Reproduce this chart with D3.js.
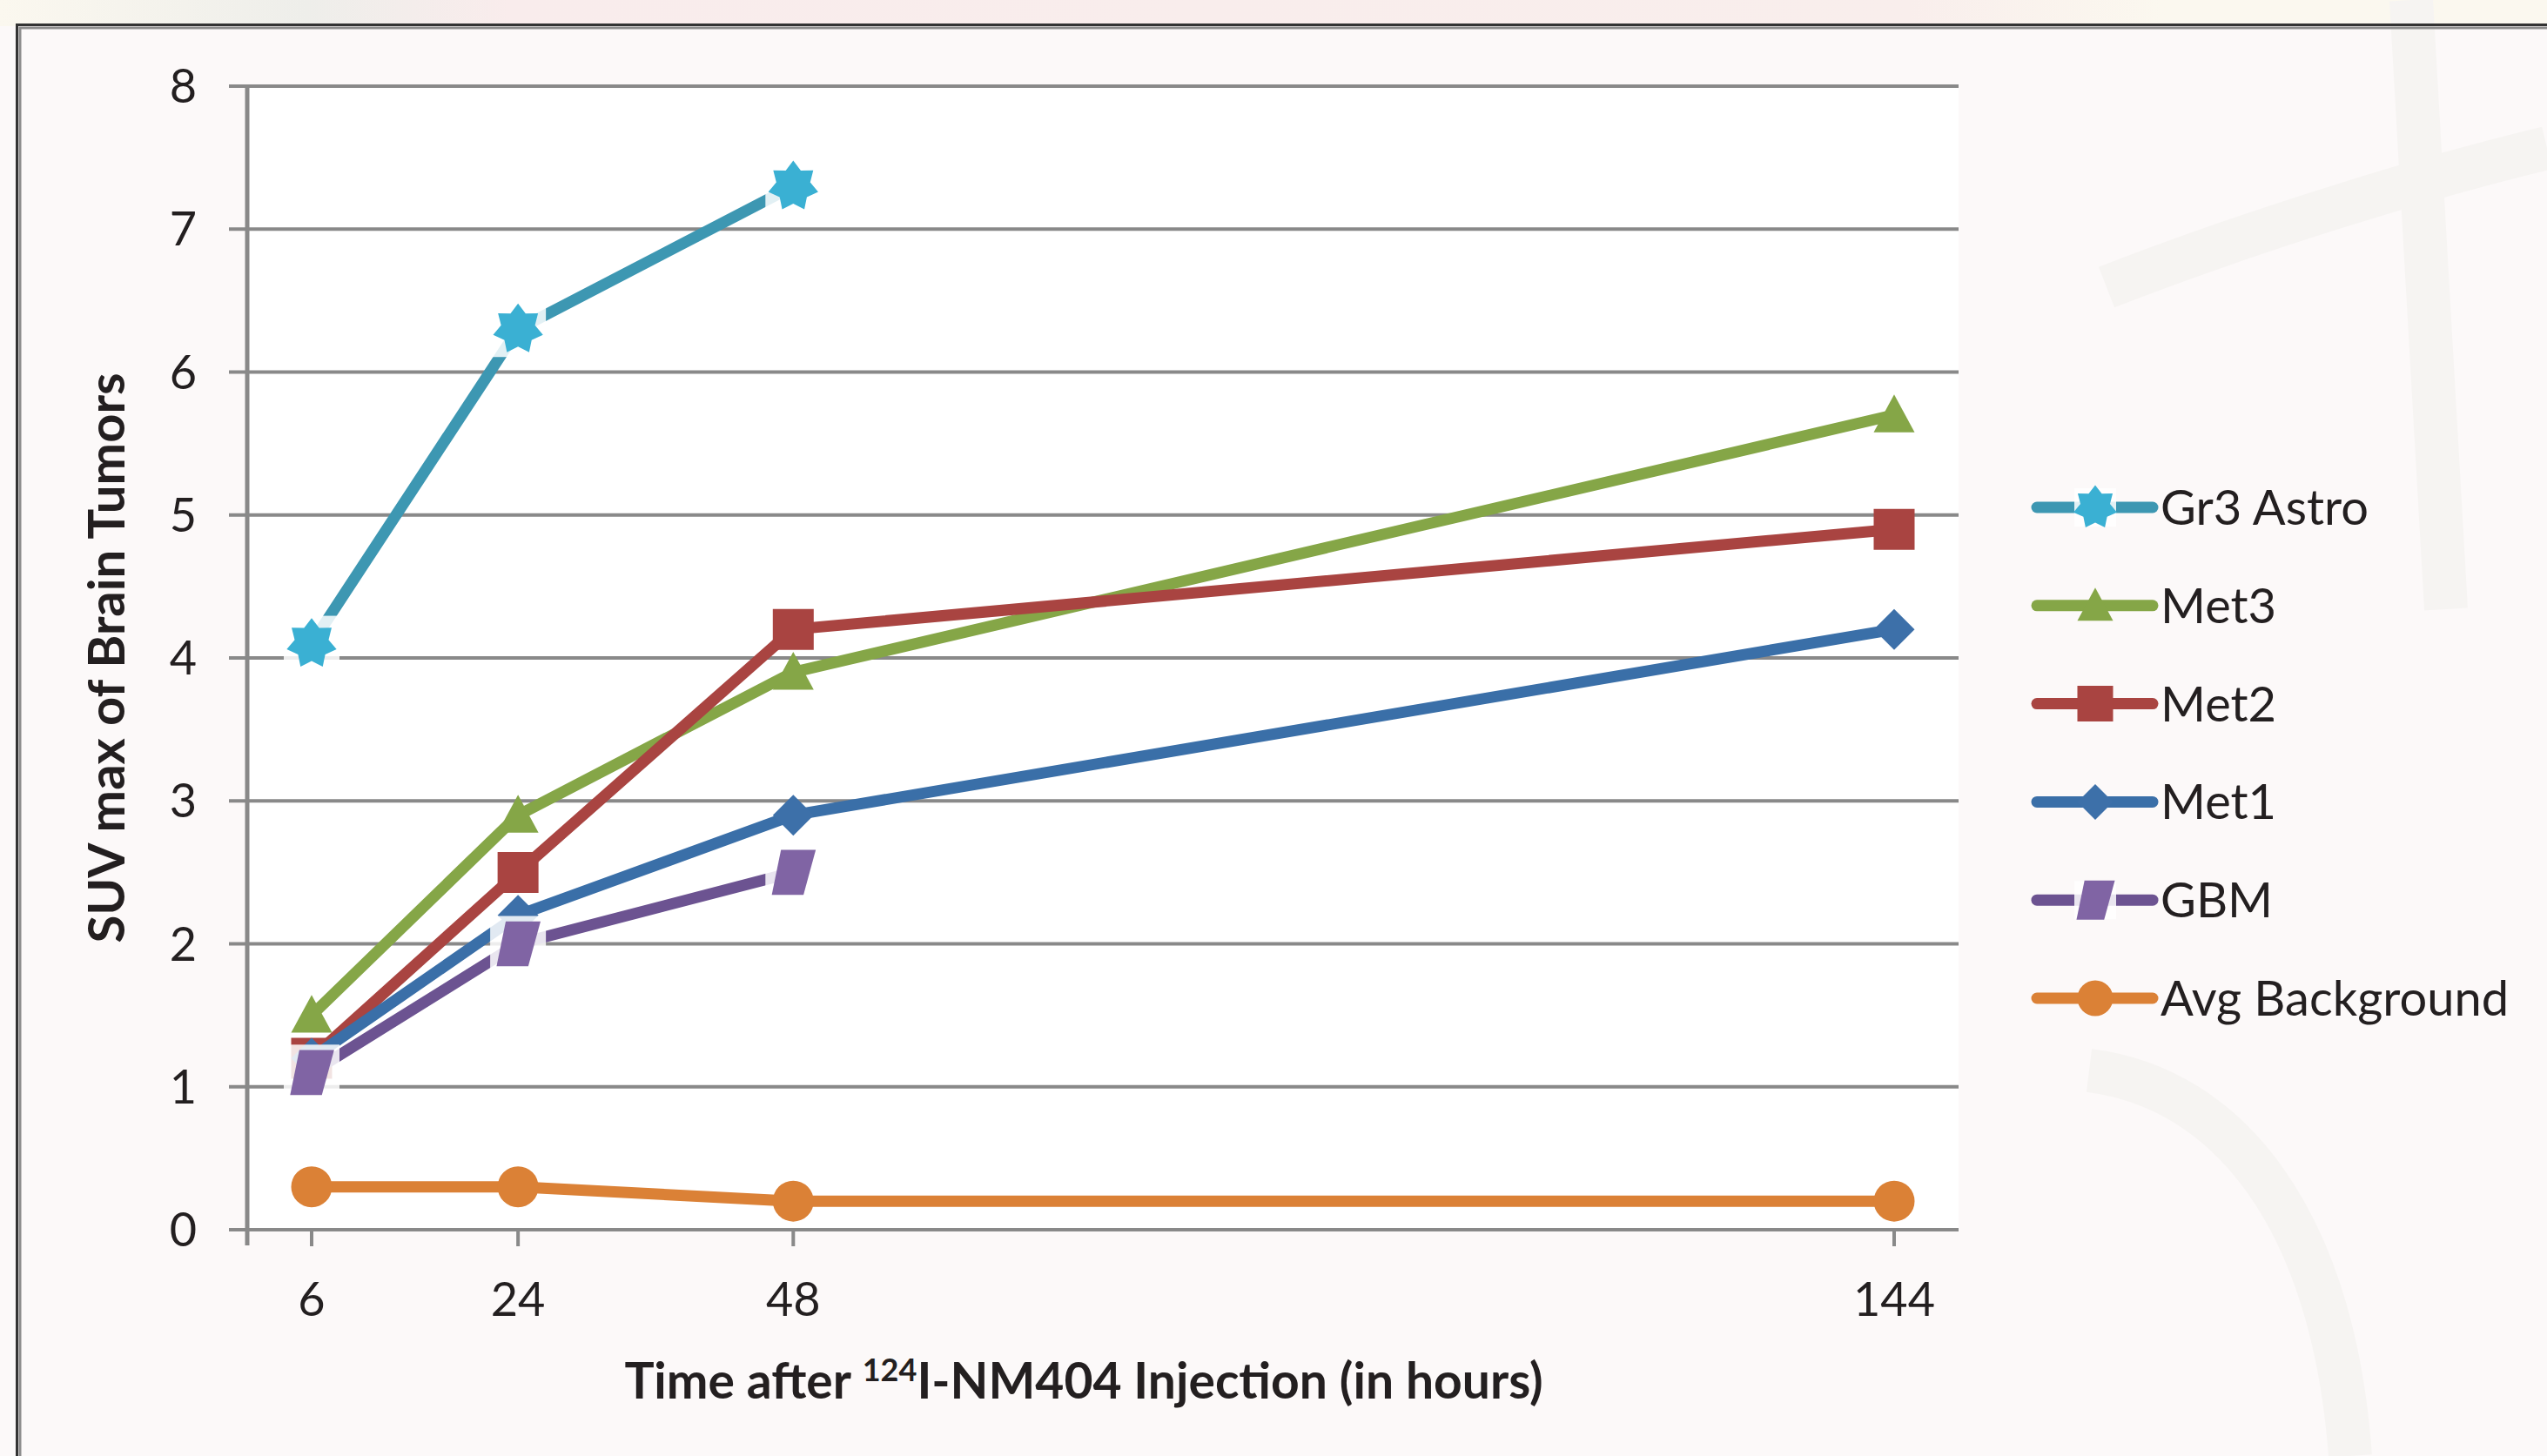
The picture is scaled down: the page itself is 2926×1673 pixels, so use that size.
<!DOCTYPE html>
<html lang="en">
<head>
    <meta charset="UTF-8">
    <title>SUV max of Brain Tumors</title>
    <script src="https://d3js.org/d3.v7.min.js"></script>
    <style>
        body { margin: 0; background: #fcf9f9; }
        text { font-family: Lato, "Open Sans", sans-serif; fill: #231f20; }
        .grid line { stroke: #898989; stroke-width: 4; }
        .series path.line { fill: none; stroke-width: 13; stroke-linecap: round; stroke-linejoin: round; }
    </style>
</head>
<body>
<script>
    const width  = 2926;
    const height = 1673;

    // data
    const hours = [6, 24, 48, 144];
    const yTicks = [0, 1, 2, 3, 4, 5, 6, 7, 8];
    const seriesNames = ["Gr3 Astro", "Met3", "Met2", "Met1", "GBM", "Avg Background"];
    const gr3Astro      = [4.1, 6.3, 7.3];
    const met3          = [1.5, 2.9, 3.9, 5.7];
    const met2          = [1.2, 2.5, 4.2, 4.9];
    const met1          = [1.2, 2.2, 2.9, 4.2];
    const gbm           = [1.1, 2.0, 2.5];
    const avgBackground = [0.3, 0.3, 0.2, 0.2];

    const seriesValues = [gr3Astro, met3, met2, met1, gbm, avgBackground];
    const lineColors   = ["#3d97b2", "#85a647", "#a94441", "#3a6fa8", "#6c5391", "#db8136"];
    const markColors   = ["#3ab0d3", "#85a647", "#a94441", "#3d70a9", "#8064a4", "#db8136"];
    const markTypes    = ["star", "triangle", "square", "diamond", "slant", "circle"];

    const plot = {left: 284, right: 2250, top: 99, bottom: 1413};

    const x = d3.scaleLinear().domain([6, 144]).range([358, 2176]);
    const y = d3.scaleLinear().domain([0, 8]).range([plot.bottom, plot.top]);

    const svg = d3.select("body").append("svg").attr("width", width).attr("height", height);

    // page background + top band
    const defs = svg.append("defs");
    const band = defs.append("linearGradient").attr("id", "band");
    band.append("stop").attr("offset", "0%").attr("stop-color", "#fbf8ef");
    band.append("stop").attr("offset", "12%").attr("stop-color", "#eeeeea");
    band.append("stop").attr("offset", "20%").attr("stop-color", "#f9ecec");
    band.append("stop").attr("offset", "75%").attr("stop-color", "#f9eeec");
    band.append("stop").attr("offset", "85%").attr("stop-color", "#fbf8ef");
    band.append("stop").attr("offset", "100%").attr("stop-color", "#fbf8ef");
    svg.append("rect").attr("width", width).attr("height", 30).attr("fill", "url(#band)");

    // faint watermark shapes
    const wm = svg.append("g").attr("fill", "none").attr("stroke", "#f6f4f2").attr("stroke-width", 50);
    wm.append("path").attr("d", "M2420,330 C2600,260 2800,200 2926,170");
    wm.append("path").attr("d", "M2700,1673 C2680,1400 2560,1250 2400,1230");
    wm.append("path").attr("d", "M2770,0 L2810,700");

    // outer frame
    svg.append("rect").attr("x", 19.5).attr("y", 28.5).attr("width", width + 20).attr("height", height + 20)
       .attr("fill", "none").attr("stroke", "#333").attr("stroke-width", 3);
    svg.append("rect").attr("x", 23).attr("y", 32).attr("width", width + 20).attr("height", height + 20)
       .attr("fill", "none").attr("stroke", "#8c8c8c").attr("stroke-width", 3);

    // plot area
    svg.append("rect").attr("x", plot.left).attr("y", plot.top)
       .attr("width", plot.right - plot.left).attr("height", plot.bottom - plot.top).attr("fill", "#fff");

    // horizontal gridlines with left ticks
    svg.append("g").attr("class", "grid")
       .selectAll("line").data(yTicks).join("line")
       .attr("x1", plot.left - 21).attr("x2", plot.right)
       .attr("y1", d => y(d)).attr("y2", d => y(d))
       .attr("stroke-width", d => d === 0 ? 5 : 4);

    // y axis line
    svg.append("line").attr("x1", plot.left).attr("x2", plot.left)
       .attr("y1", plot.top).attr("y2", plot.bottom + 18)
       .attr("stroke", "#898989").attr("stroke-width", 5);

    // x ticks
    svg.append("g").selectAll("line").data(hours).join("line")
       .attr("x1", d => x(d)).attr("x2", d => x(d))
       .attr("y1", plot.bottom).attr("y2", plot.bottom + 19)
       .attr("stroke", "#898989").attr("stroke-width", 4);

    // tick labels
    svg.append("g").selectAll("text").data(yTicks).join("text")
       .attr("x", 226).attr("y", d => y(d) + 19)
       .attr("text-anchor", "end").attr("font-size", 54)
       .text(d => d);

    svg.append("g").selectAll("text").data(hours).join("text")
       .attr("x", d => x(d)).attr("y", 1512)
       .attr("text-anchor", "middle").attr("font-size", 54)
       .text(d => d);

    // axis titles
    svg.append("text")
       .attr("transform", "translate(143," + ((plot.top + plot.bottom) / 2) + ") rotate(-90)")
       .attr("text-anchor", "middle").attr("font-size", 58).attr("font-weight", "bold")
       .text("SUV max of Brain Tumors");

    const xt = svg.append("text")
       .attr("x", (plot.left + plot.right) / 2 - 22).attr("y", 1607)
       .attr("text-anchor", "middle").attr("font-size", 57).attr("font-weight", "bold");
    xt.append("tspan").text("Time after ");
    xt.append("tspan").attr("font-size", 36).attr("dy", -20).text("124");
    xt.append("tspan").attr("dy", 20).text("I-NM404 Injection (in hours)");

    // marker shapes
    function starPath(r, inner, n) {
        const pts = [];
        for (let i = 0; i < n * 2; i++) {
            const a = Math.PI * i / n - Math.PI / 2;
            const rr = i % 2 === 0 ? r : inner;
            pts.push([rr * Math.cos(a), rr * Math.sin(a)]);
        }
        return d3.line()(pts) + "Z";
    }
    function markerPath(type, s) {
        const h = s / 2;
        switch (type) {
            case "star":     return starPath(h * 1.25, h * 0.85, 7);
            case "triangle": return d3.line()([[0, -h], [h, h * 0.85], [-h, h * 0.85]]) + "Z";
            case "square":   return d3.line()([[-h, -h], [h, -h], [h, h], [-h, h]]) + "Z";
            case "diamond":  return d3.line()([[0, -h], [h, 0], [0, h], [-h, 0]]) + "Z";
            case "slant":    return d3.line()([[-h * 0.6, -h * 1.1], [h * 1.1, -h * 1.1], [h * 0.5, h * 1.1], [-h * 1.05, h * 1.1]]) + "Z";
            default:         return d3.arc()({innerRadius: 0, outerRadius: h, startAngle: 0, endAngle: 2 * Math.PI});
        }
    }
    const needsBox = t => t === "star" || t === "slant";

    const line = d3.line().x(d => x(d.h)).y(d => y(d.v));

    const series = seriesNames.map((name, i) => ({
        name: name,
        lineColor: lineColors[i],
        markColor: markColors[i],
        type: markTypes[i],
        points: seriesValues[i].map((v, j) => ({h: hours[j], v: v}))
    }));

    const groups = svg.append("g").selectAll("g").data(series).join("g").attr("class", "series");

    groups.append("path").attr("class", "line")
          .attr("d", d => line(d.points))
          .attr("stroke", d => d.lineColor);

    groups.each(function (s) {
        const g = d3.select(this);
        const m = g.selectAll("g.mark").data(s.points).join("g").attr("class", "mark")
                   .attr("transform", d => "translate(" + x(d.h) + "," + y(d.v) + ")");
        if (needsBox(s.type)) {
            m.append("rect").attr("x", -32).attr("y", -32).attr("width", 64).attr("height", 64)
             .attr("fill", "#fff").attr("opacity", 0.85);
        }
        m.append("path").attr("d", markerPath(s.type, 47)).attr("fill", s.markColor);
    });

    // legend
    const legend = svg.append("g").selectAll("g").data(series).join("g")
                      .attr("transform", (d, i) => "translate(0," + (583 + i * 112.8) + ")");
    legend.append("line").attr("x1", 2340).attr("x2", 2473)
          .attr("stroke", d => d.lineColor).attr("stroke-width", 13).attr("stroke-linecap", "round");
    legend.filter(d => needsBox(d.type)).append("rect")
          .attr("x", 2407 - 24).attr("y", -22).attr("width", 48).attr("height", 44)
          .attr("fill", "#fff").attr("opacity", 0.85);
    legend.append("path")
          .attr("transform", "translate(2407,0)")
          .attr("d", d => markerPath(d.type, 41))
          .attr("fill", d => d.markColor);
    legend.append("text").attr("x", 2482).attr("y", 20).attr("font-size", 56)
          .text(d => d.name);
</script>
</body>
</html>
